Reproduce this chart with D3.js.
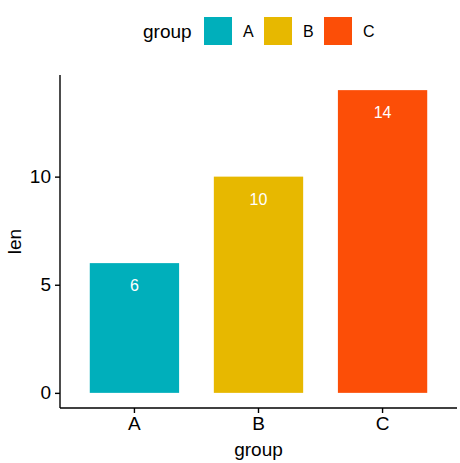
<!DOCTYPE html>
<html>
<head>
<meta charset="utf-8">
<script src="https://cdn.jsdelivr.net/npm/d3@7"></script>
<style>
  body { margin: 0; background: #fff; }
  text { font-family: "Liberation Sans", Arial, sans-serif; }
</style>
</head>
<body>
<div id="chart"></div>
<script>
let groups = ["A", "B", "C"];
let lens = [6, 10, 14];
let colors = ["#00AFBB", "#E7B800", "#FC4E07"];
let yTicks = [0, 5, 10];

let svgWidth = 460;
let svgHeight = 463;
let padLeft = 60, padRight = 457, padTop = 75, padBottom = 408;

let svg = d3.select("#chart")
  .append("svg")
  .attr("width", svgWidth)
  .attr("height", svgHeight);

let xScale = d3.scaleBand()
  .domain(groups)
  .range([padLeft, padRight])
  .paddingInner(0.28)
  .paddingOuter(0.24);

let yScale = d3.scaleLinear()
  .domain([-0.7, 14.7])
  .range([padBottom, padTop]);

let color = d3.scaleOrdinal().domain(groups).range(colors);

let data = groups.map((g, i) => ({ group: g, len: lens[i] }));

// bars
svg.selectAll("rect.bar")
  .data(data)
  .enter()
  .append("rect")
  .attr("class", "bar")
  .attr("x", d => xScale(d.group))
  .attr("width", xScale.bandwidth())
  .attr("y", d => yScale(d.len))
  .attr("height", d => yScale(0) - yScale(d.len))
  .attr("fill", d => color(d.group));

// labels inside bars
svg.selectAll("text.lab")
  .data(data)
  .enter()
  .append("text")
  .attr("class", "lab")
  .attr("x", d => xScale(d.group) + xScale.bandwidth() / 2)
  .attr("y", d => yScale(d.len) + 28)
  .attr("text-anchor", "middle")
  .attr("fill", "white")
  .attr("font-size", 16)
  .text(d => d.len);

// axes
let xAxis = d3.axisBottom(xScale).tickSize(5).tickPadding(4);
let gx = svg.append("g")
  .attr("transform", `translate(0,${padBottom})`)
  .call(xAxis);
gx.select(".domain").attr("d", `M${padLeft},0H${padRight}`);

let yAxis = d3.axisLeft(yScale).tickValues(yTicks).tickSize(5).tickPadding(4);
let gy = svg.append("g")
  .attr("transform", `translate(${padLeft},0)`)
  .call(yAxis);
gy.select(".domain").attr("d", `M0,${padTop}V${padBottom}`);

svg.selectAll(".domain").attr("stroke", "#000").attr("stroke-width", 1.4);
svg.selectAll(".tick line").attr("stroke", "#000").attr("stroke-width", 1.4);
svg.selectAll(".tick text")
  .attr("fill", "#000")
  .attr("font-size", 19)
  .attr("font-family", "Liberation Sans, Arial, sans-serif");

// axis titles
svg.append("text")
  .attr("x", (padLeft + padRight) / 2)
  .attr("y", 456)
  .attr("text-anchor", "middle")
  .attr("font-size", 19)
  .text("group");

svg.append("text")
  .attr("transform", `translate(21,${(padTop + padBottom) / 2}) rotate(-90)`)
  .attr("text-anchor", "middle")
  .attr("font-size", 19)
  .text("len");

// legend
let legend = svg.append("g");
legend.append("text")
  .attr("x", 143)
  .attr("y", 38)
  .attr("font-size", 19)
  .text("group");

let legendX = d3.scalePoint().domain(groups).range([204, 324]);

let items = legend.selectAll("g.item")
  .data(data)
  .enter()
  .append("g")
  .attr("class", "item")
  .attr("transform", d => `translate(${legendX(d.group)},17)`);

items.append("rect")
  .attr("width", 28)
  .attr("height", 28)
  .attr("fill", d => color(d.group));

items.append("text")
  .attr("x", 39)
  .attr("y", 20)
  .attr("font-size", 16)
  .text(d => d.group);
</script>
</body>
</html>
